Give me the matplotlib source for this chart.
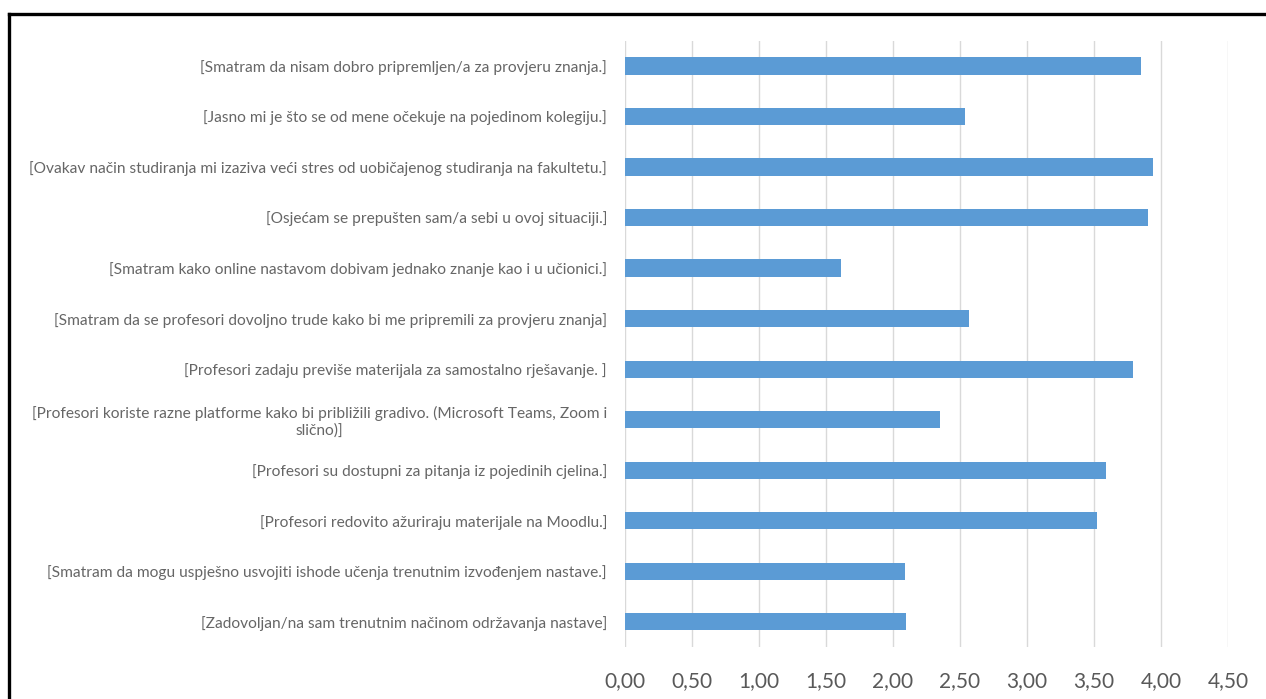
import matplotlib.pyplot as plt
from matplotlib.lines import Line2D
import numpy as np

# survey statements, top to bottom as shown
labels = [
    "[Smatram da nisam dobro pripremljen/a za provjeru znanja.]",
    "[Jasno mi je što se od mene očekuje na pojedinom kolegiju.]",
    "[Ovakav način studiranja mi izaziva veći stres od uobičajenog studiranja na fakultetu.]",
    "[Osjećam se prepušten sam/a sebi u ovoj situaciji.]",
    "[Smatram kako online nastavom dobivam jednako znanje kao i u učionici.]",
    "[Smatram da se profesori dovoljno trude kako bi me pripremili za provjeru znanja]",
    "[Profesori zadaju previše materijala za samostalno rješavanje. ]",
    "[Profesori koriste razne platforme kako bi približili gradivo. (Microsoft Teams, Zoom i\nslično)]",
    "[Profesori su dostupni za pitanja iz pojedinih cjelina.]",
    "[Profesori redovito ažuriraju materijale na Moodlu.]",
    "[Smatram da mogu uspješno usvojiti ishode učenja trenutnim izvođenjem nastave.]",
    "[Zadovoljan/na sam trenutnim načinom održavanja nastave]",
]
values = [3.85, 2.54, 3.94, 3.90, 1.61, 2.57, 3.79, 2.35, 3.59, 3.52, 2.09, 2.10]
xticks = [0, 0.5, 1, 1.5, 2, 2.5, 3, 3.5, 4, 4.5]

plt.rcParams['font.family'] = ['Lato', 'DejaVu Sans']

fig = plt.figure(figsize=(12.66, 6.99), dpi=100)
ax = fig.add_axes([0.4937, 0.0744, 0.4763, 0.8674])

y = np.arange(len(labels))
ax.barh(y, values, height=0.34, color='#5B9BD5', zorder=3)

ax.set_xlim(0, 4.5)
ax.set_ylim(len(labels) - 0.5, -0.5)
ax.set_xticks(xticks)
ax.set_xticklabels([('%.2f' % v).replace('.', ',') for v in xticks],
                   fontsize=15, color='#595959')
ax.set_yticks(y)
ax.set_yticklabels(labels, fontsize=11.2, color='#666666')
for t in ax.get_yticklabels():
    t.set_multialignment('center')

ax.tick_params(axis='x', length=0, pad=17)
ax.tick_params(axis='y', length=0, pad=13)
ax.grid(axis='x', color='#D9D9D9', linewidth=1, zorder=0)
for s in ax.spines.values():
    s.set_visible(False)

# frame of the screenshot (top and left edges only)
fig.add_artist(Line2D([0.0075, 1.0], [0.9793, 0.9793], color='black', linewidth=2.4,
                      transform=fig.transFigure))
fig.add_artist(Line2D([0.0075, 0.0075], [0.0, 0.9793], color='black', linewidth=2.4,
                      transform=fig.transFigure))

plt.savefig('out.png', dpi=100)
